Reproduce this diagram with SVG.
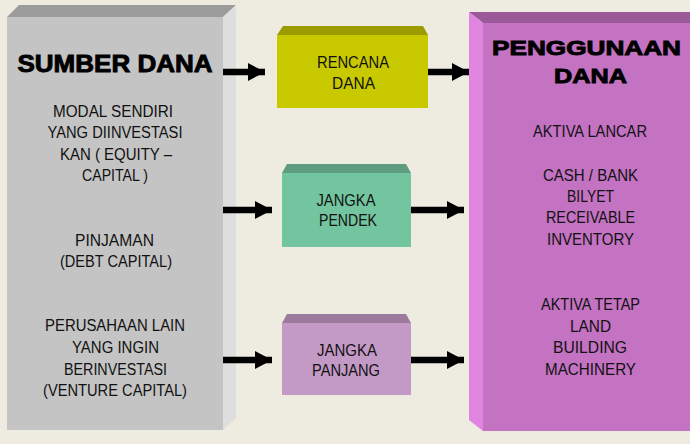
<svg xmlns="http://www.w3.org/2000/svg" width="690" height="444" viewBox="0 0 690 444">
<style>
.t{font-family:"Liberation Sans",Arial,sans-serif;font-size:16px;fill:#111;text-anchor:middle}
.h{font-family:"Liberation Sans",Arial,sans-serif;font-weight:bold;fill:#000;stroke:#000;stroke-width:0.9;text-anchor:middle}
.c{stroke:#000;stroke-width:6.5;fill:none;marker-end:url(#ah)}
</style>
<defs>
<marker id="ah" markerUnits="userSpaceOnUse" markerWidth="18" markerHeight="18" refX="17" refY="9" orient="auto">
<path d="M0,0 L17,9 L0,18 z" fill="#000"/>
</marker>
</defs>
<rect width="690" height="444" fill="#EEECE1"/>

<g id="sumber-dana">
<polygon points="7,17 19,5 236,5 223,17" fill="#9B9B9B"/>
<polygon points="223,17 236,5 236,418 223,430" fill="#DEDEDE"/>
<rect x="7" y="17" width="216" height="413" fill="#C4C4C4"/>
<text class="h" x="115" y="72" font-size="24" textLength="195" lengthAdjust="spacingAndGlyphs">SUMBER DANA</text>
<text class="t" x="113" y="117" textLength="120" lengthAdjust="spacingAndGlyphs">MODAL SENDIRI</text>
<text class="t" x="115" y="138" textLength="135" lengthAdjust="spacingAndGlyphs">YANG DIINVESTASI</text>
<text class="t" x="116" y="160" textLength="112" lengthAdjust="spacingAndGlyphs">KAN ( EQUITY –</text>
<text class="t" x="115" y="181" textLength="66" lengthAdjust="spacingAndGlyphs">CAPITAL )</text>
<text class="t" x="114.5" y="246" textLength="79" lengthAdjust="spacingAndGlyphs">PINJAMAN</text>
<text class="t" x="116" y="267" textLength="112" lengthAdjust="spacingAndGlyphs">(DEBT CAPITAL)</text>
<text class="t" x="115" y="331" textLength="140" lengthAdjust="spacingAndGlyphs">PERUSAHAAN LAIN</text>
<text class="t" x="115.5" y="353" textLength="87" lengthAdjust="spacingAndGlyphs">YANG INGIN</text>
<text class="t" x="115.5" y="375" textLength="103" lengthAdjust="spacingAndGlyphs">BERINVESTASI</text>
<text class="t" x="115" y="396" textLength="144" lengthAdjust="spacingAndGlyphs">(VENTURE CAPITAL)</text>
</g>

<g id="rencana-dana">
<polygon points="277,35 283,26 423,26 428,35" fill="#9C9C00"/>
<rect x="277" y="35" width="151" height="73" fill="#C9C900"/>
<text class="t" x="353" y="68" textLength="72" lengthAdjust="spacingAndGlyphs">RENCANA</text>
<text class="t" x="353.5" y="89" textLength="43" lengthAdjust="spacingAndGlyphs">DANA</text>
</g>

<g id="jangka-pendek">
<polygon points="282,173 287,164 406,164 411,173" fill="#5E9C7F"/>
<rect x="282" y="173" width="129" height="74" fill="#73C59F"/>
<text class="t" x="346" y="206" textLength="59" lengthAdjust="spacingAndGlyphs">JANGKA</text>
<text class="t" x="348" y="226" textLength="58" lengthAdjust="spacingAndGlyphs">PENDEK</text>
</g>

<g id="jangka-panjang">
<polygon points="282,323 287,314 406,314 411,323" fill="#9B7A9E"/>
<rect x="282" y="323" width="129" height="72" fill="#C39AC6"/>
<text class="t" x="347" y="356" textLength="60" lengthAdjust="spacingAndGlyphs">JANGKA</text>
<text class="t" x="346" y="376" textLength="68" lengthAdjust="spacingAndGlyphs">PANJANG</text>
</g>

<g id="penggunaan-dana">
<polygon points="469,12 690,12 690,23 483,23" fill="#9A5A9A"/>
<polygon points="469,12 483,23 483,431 469,420" fill="#DF84DF"/>
<rect x="483" y="23" width="207" height="408" fill="#C472C2"/>
<text class="h" x="586.5" y="55" font-size="21" textLength="189" lengthAdjust="spacingAndGlyphs">PENGGUNAAN</text>
<text class="h" x="590.5" y="83" font-size="21" textLength="73" lengthAdjust="spacingAndGlyphs">DANA</text>
<text class="t" x="590" y="137" textLength="114" lengthAdjust="spacingAndGlyphs">AKTIVA LANCAR</text>
<text class="t" x="590.5" y="181" textLength="95" lengthAdjust="spacingAndGlyphs">CASH / BANK</text>
<text class="t" x="590.5" y="202" textLength="47" lengthAdjust="spacingAndGlyphs">BILYET</text>
<text class="t" x="590.5" y="223" textLength="89" lengthAdjust="spacingAndGlyphs">RECEIVABLE</text>
<text class="t" x="590.5" y="245" textLength="87" lengthAdjust="spacingAndGlyphs">INVENTORY</text>
<text class="t" x="590.5" y="310" textLength="99" lengthAdjust="spacingAndGlyphs">AKTIVA TETAP</text>
<text class="t" x="590.5" y="332" textLength="41" lengthAdjust="spacingAndGlyphs">LAND</text>
<text class="t" x="590" y="353" textLength="74" lengthAdjust="spacingAndGlyphs">BUILDING</text>
<text class="t" x="590.5" y="375" textLength="91" lengthAdjust="spacingAndGlyphs">MACHINERY</text>
</g>

<g id="connectors">
<line class="c" x1="223" y1="72" x2="265" y2="72"/>
<line class="c" x1="428" y1="72" x2="469" y2="72"/>
<line class="c" x1="223" y1="210" x2="272" y2="210"/>
<line class="c" x1="411" y1="210" x2="464" y2="210"/>
<line class="c" x1="223" y1="360" x2="272" y2="360"/>
<line class="c" x1="411" y1="360" x2="464" y2="360"/>
</g>
</svg>
